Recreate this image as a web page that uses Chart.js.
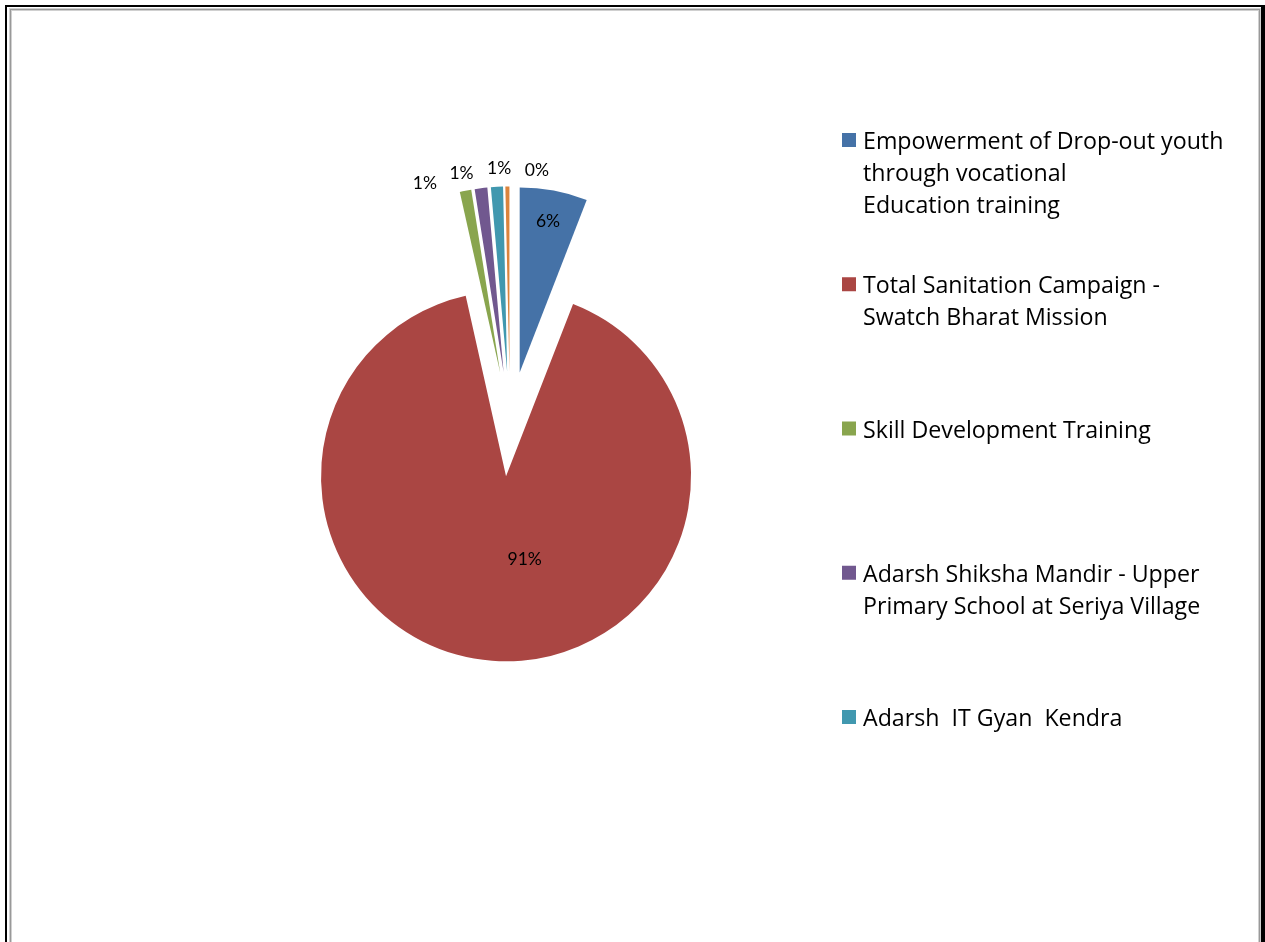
<!DOCTYPE html>
<html>
<head>
<meta charset="utf-8">
<script src="https://cdn.jsdelivr.net/npm/chart.js@4/dist/chart.umd.min.js"></script>
<style>
html,body{margin:0;padding:0;background:#fff;}
#wrap{width:1265px;height:942px;position:relative;}
canvas{display:block;}
</style>
</head>
<body>
<div id="wrap"><canvas id="c" width="1265" height="942"></canvas></div>
<script>
// ---- data ----
const categories = [
  ["Empowerment of Drop-out youth", "through vocational", "Education training"],
  ["Total Sanitation Campaign -", "Swatch Bharat Mission"],
  ["Skill Development Training"],
  ["Adarsh Shiksha Mandir - Upper", "Primary School at Seriya Village"],
  ["Adarsh  IT Gyan  Kendra"],
  ["Other"]
];
const shares = [5.9, 90.6, 1.0, 1.1, 1.05, 0.35];
const sliceColors = ["#4572A7", "#AA4643", "#89A54E", "#71588F", "#4198AF", "#DB843D"];
const legendShown = 5;

const LEGEND_FONT = "'Open Sans', Lato, sans-serif";
const LABEL_FONT = "Lato, 'Open Sans', sans-serif";

// frame around the picture
const framePlugin = {
  id: 'frame',
  beforeDraw(chart) {
    const ctx = chart.ctx;
    const W = chart.width, H = chart.height;
    ctx.save();
    ctx.fillStyle = '#ffffff';
    ctx.fillRect(0, 0, W, H);
    ctx.fillStyle = '#000000';
    ctx.fillRect(5, 5, W - 5, 2);
    ctx.fillRect(5, 5, 2, H);
    ctx.fillRect(1261, 5, 4, H);
    ctx.fillStyle = '#d0d0d0';
    ctx.fillRect(9, 8, 1252, 3);
    ctx.fillRect(9, 8, 3, H);
    ctx.fillRect(1258, 8, 3, H);
    ctx.fillStyle = '#999999';
    ctx.fillRect(10, 9, 1250, 1);
    ctx.fillRect(10, 9, 1, H);
    ctx.fillRect(1259, 9, 1, H);
    ctx.restore();
  }
};

// exploded slices: each arc element is drawn by the library, shifted along its mid angle
const explodePlugin = {
  id: 'explode',
  beforeDatasetDraw(chart, args, opts) {
    const ctx = chart.ctx;
    const e = opts.distance || 0;
    args.meta.data.forEach(arc => {
      const mid = (arc.startAngle + arc.endAngle) / 2;
      ctx.save();
      ctx.translate(Math.cos(mid) * e, Math.sin(mid) * e);
      arc.draw(ctx, chart.chartArea);
      ctx.restore();
    });
    return false;
  }
};

// percentage labels
const labelPlugin = {
  id: 'pctLabels',
  afterDatasetsDraw(chart, args, opts) {
    const ctx = chart.ctx;
    const meta = chart.getDatasetMeta(0);
    const data = chart.data.datasets[0].data;
    const total = data.reduce((a, b) => a + b, 0);
    const e = opts.explode;
    const deg = Math.PI / 180;
    ctx.save();
    ctx.font = opts.size + 'px ' + LABEL_FONT;
    ctx.fillStyle = '#000';
    ctx.textAlign = 'center';
    ctx.textBaseline = 'middle';
    const outside = [];
    meta.data.forEach((arc, i) => {
      const mid = (arc.startAngle + arc.endAngle) / 2;
      const pct = Math.round(data[i] / total * 100) + '%';
      const share = data[i] / total;
      const vx = arc.x + Math.cos(mid) * e;
      const vy = arc.y + Math.sin(mid) * e;
      if (share >= 0.03) {
        const big = share > 0.5;
        const f = big ? 0.46 : 0.83;
        const a = big ? mid + opts.bigTurn * deg : mid;
        ctx.fillText(pct, vx + Math.cos(a) * arc.outerRadius * f, vy + Math.sin(a) * arc.outerRadius * f);
      } else {
        let a = mid;
        if (a > Math.PI * 1.5) a -= Math.PI * 2;
        outside.push({ a, pct, arc });
      }
    });
    if (outside.length) {
      const gap = opts.gap * deg;
      outside.sort((p, q) => p.a - q.a);
      const mean = outside.reduce((s, p) => s + p.a, 0) / outside.length + opts.shift * deg;
      const n = outside.length;
      outside.forEach((p, k) => {
        const a = mean + (k - (n - 1) / 2) * gap;
        const d = p.arc.outerRadius + e + opts.pad;
        ctx.fillText(p.pct, p.arc.x + Math.cos(a) * d, p.arc.y + Math.sin(a) * d);
      });
    }
    ctx.restore();
  }
};

// legend on the right
const legendPlugin = {
  id: 'sideLegend',
  afterDraw(chart, args, opts) {
    const ctx = chart.ctx;
    const ds = chart.data.datasets[0];
    ctx.save();
    ctx.font = opts.size + 'px ' + LEGEND_FONT;
    ctx.textAlign = 'left';
    ctx.textBaseline = 'alphabetic';
    for (let i = 0; i < opts.count; i++) {
      const base = opts.top + i * opts.step;
      ctx.fillStyle = ds.backgroundColor[i];
      ctx.fillRect(opts.boxX, base - 16, 14, 14);
      ctx.fillStyle = '#000';
      chart.data.labels[i].forEach((ln, j) => ctx.fillText(ln, opts.textX, base + j * opts.lineH));
    }
    ctx.restore();
  }
};

new Chart(document.getElementById('c'), {
  type: 'pie',
  data: {
    labels: categories,
    datasets: [{
      data: shares,
      backgroundColor: sliceColors,
      borderWidth: 0
    }]
  },
  options: {
    responsive: false,
    animation: false,
    radius: 185,
    layout: { padding: { left: 0, right: 245, top: 0, bottom: 94 } },
    plugins: {
      legend: { display: false },
      tooltip: { enabled: false },
      explode: { distance: 52.5 },
      pctLabels: { explode: 52.5, size: 17.5, gap: 8.5, pad: 18, shift: -1.3, bigTurn: -17 },
      sideLegend: { count: legendShown, top: 149, step: 144.25, lineH: 32, boxX: 842, textX: 863, size: 23.2 }
    }
  },
  plugins: [framePlugin, explodePlugin, labelPlugin, legendPlugin]
});
</script>
</body>
</html>
